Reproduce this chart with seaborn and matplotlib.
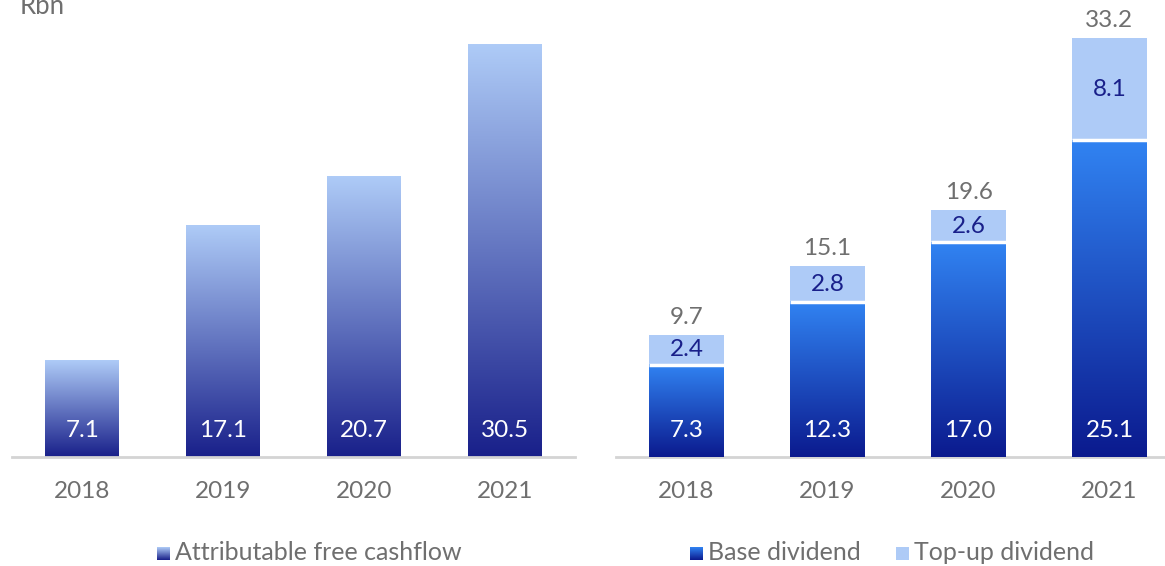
import numpy as np
import pandas as pd
import seaborn as sns
import matplotlib.pyplot as plt
from matplotlib.colors import LinearSegmentedColormap

years = ["2018", "2019", "2020", "2021"]
free_cashflow = [7.1, 17.1, 20.7, 30.5]
base_dividend = [7.3, 12.3, 17.0, 25.1]
topup_dividend = [2.4, 2.8, 2.6, 8.1]
total_dividend = [9.7, 15.1, 19.6, 33.2]

LIGHT = "#aecbf7"
NAVY = "#19208a"
BLUE = "#3183f2"
DEEP = "#0b1a8e"
GREY = "#6f6f6f"
AXIS = "#d4d4d4"

sns.set_style("white")
plt.rcParams["font.family"] = ["Lato", "DejaVu Sans"]
FS = 17.5


def gradient(ax, patch, top, bottom, z=2):
    x, y = patch.get_x(), patch.get_y()
    w, h = patch.get_width(), patch.get_height()
    cmap = LinearSegmentedColormap.from_list("g", [bottom, top])
    grad = np.linspace(0, 1, 256).reshape(-1, 1)
    ax.imshow(grad, extent=[x, x + w, y, y + h], origin="lower",
              aspect="auto", cmap=cmap, zorder=z)
    patch.set_visible(False)


def style(ax, ylim):
    ax.set_xlim(-0.5, 3.5)
    ax.set_ylim(0, ylim)
    for s in ["top", "right", "left"]:
        ax.spines[s].set_visible(False)
    ax.spines["bottom"].set_color(AXIS)
    ax.spines["bottom"].set_linewidth(2)
    ax.set_yticks([])
    ax.set_xlabel("")
    ax.set_ylabel("")
    ax.tick_params(axis="x", length=0, pad=17, labelsize=FS, labelcolor=GREY)


fig = plt.figure(figsize=(11.65, 5.66), dpi=100)
W, H = 1165, 566
base_y = 457

# left panel
ax1 = fig.add_axes([12 / W, (H - base_y) / H, 563 / W, base_y / H])
df1 = pd.DataFrame({"year": years, "value": free_cashflow})
sns.barplot(data=df1, x="year", y="value", ax=ax1, width=0.525,
            color=LIGHT, edgecolor="none", saturation=1)
for p in ax1.patches:
    gradient(ax1, p, LIGHT, NAVY)
for i, v in enumerate(free_cashflow):
    ax1.text(i, 1.95, f"{v:.1f}", ha="center", va="center", color="white", fontsize=FS)
style(ax1, base_y / 13.54)

# right panel
ax2 = fig.add_axes([616 / W, (H - base_y) / H, 564 / W, base_y / H])
df2 = pd.DataFrame({"year": years, "total": total_dividend, "base": base_dividend})
sns.barplot(data=df2, x="year", y="total", ax=ax2, width=0.525,
            color=LIGHT, edgecolor="none", saturation=1)
n_top = len(ax2.patches)
sns.barplot(data=df2, x="year", y="base", ax=ax2, width=0.525,
            color=BLUE, edgecolor="none", saturation=1)
for p in ax2.patches[n_top:]:
    gradient(ax2, p, BLUE, DEEP, z=3)
    ax2.plot([p.get_x(), p.get_x() + p.get_width()], [p.get_height()] * 2,
             color="white", lw=2.5, zorder=4, solid_capstyle="butt")
for i in range(len(years)):
    ax2.text(i, 2.1, f"{base_dividend[i]:.1f}", ha="center", va="center",
             color="white", fontsize=FS, zorder=5)
    ax2.text(i, base_dividend[i] + topup_dividend[i] / 2, f"{topup_dividend[i]:.1f}",
             ha="center", va="center", color=NAVY, fontsize=FS, zorder=5)
    ax2.text(i, total_dividend[i] + 0.55, f"{total_dividend[i]:.1f}",
             ha="center", va="bottom", color=GREY, fontsize=FS, zorder=5)
style(ax2, base_y / 12.62)

fig.text(20 / W, 1 - 14 / H, "Rbn", color=GREY, fontsize=FS + 1, ha="left", va="baseline")


# legend
def legend_square(x, top, bottom, label):
    sq = fig.add_axes([x / W, (H - 560) / H, 13 / W, 13 / H])
    cmap = LinearSegmentedColormap.from_list("l", [bottom, top])
    sq.imshow(np.linspace(0, 1, 64).reshape(-1, 1), origin="lower",
              aspect="auto", cmap=cmap)
    sq.axis("off")
    fig.text((x + 18) / W, 1 - 553 / H, label, color=GREY, fontsize=FS + 0.5,
             ha="left", va="center")


legend_square(157, LIGHT, NAVY, "Attributable free cashflow")
legend_square(690, BLUE, DEEP, "Base dividend")
legend_square(896, LIGHT, LIGHT, "Top-up dividend")

fig.savefig("out.png", dpi=100, facecolor="white")
